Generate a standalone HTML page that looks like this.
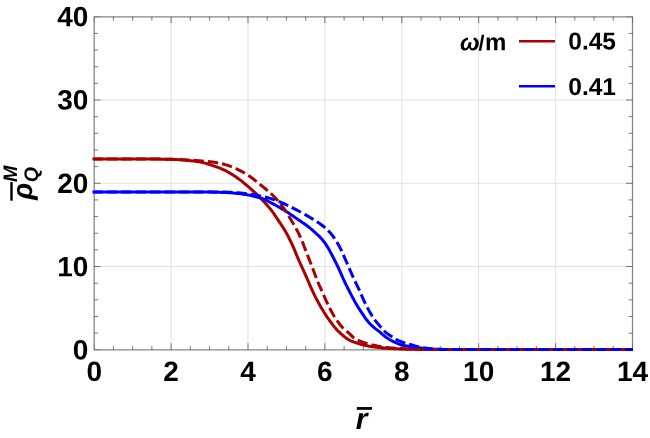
<!DOCTYPE html><html><head><meta charset="utf-8"><title>plot</title><style>html,body{margin:0;padding:0;background:#fff;}body{width:650px;height:438px;position:relative;overflow:hidden;}svg{display:block;will-change:transform;}text{text-rendering:geometricPrecision;}</style></head><body>
<svg width="650" height="438" viewBox="0 0 650 438" style="position:absolute;left:0;top:0"><g stroke="#d6d6d6" stroke-width="0.7" fill="none"><line x1="171.10" y1="16.75" x2="171.10" y2="349.80"/><line x1="248.00" y1="16.75" x2="248.00" y2="349.80"/><line x1="324.90" y1="16.75" x2="324.90" y2="349.80"/><line x1="401.80" y1="16.75" x2="401.80" y2="349.80"/><line x1="478.70" y1="16.75" x2="478.70" y2="349.80"/><line x1="555.60" y1="16.75" x2="555.60" y2="349.80"/><line x1="94.20" y1="266.54" x2="632.50" y2="266.54"/><line x1="94.20" y1="183.28" x2="632.50" y2="183.28"/><line x1="94.20" y1="100.01" x2="632.50" y2="100.01"/></g><rect x="94.20" y="16.75" width="538.30" height="333.05" fill="none" stroke="#868686" stroke-width="1.25" stroke-linejoin="round"/><clipPath id="cp"><rect x="0" y="0" width="633.00" height="438"/></clipPath><g fill="none" stroke-width="3.00" stroke-linejoin="round" clip-path="url(#cp)"><path d="M94.00 159.00 L95.00 159.00 L96.00 159.00 L97.00 159.00 L98.00 159.00 L99.00 159.00 L100.00 159.00 L101.00 159.00 L102.00 159.00 L103.00 159.00 L104.00 159.00 L105.00 159.00 L106.00 159.00 L107.00 159.00 L108.00 159.00 L109.00 159.00 L110.00 159.00 L111.00 159.00 L112.00 159.00 L113.00 159.00 L114.00 159.00 L115.00 159.00 L116.00 159.00 L117.00 159.00 L118.00 159.00 L119.00 159.00 L120.00 159.00 L121.00 159.00 L122.00 159.00 L123.00 159.00 L124.00 159.00 L125.00 159.00 L126.00 159.00 L127.00 159.00 L128.00 159.00 L129.00 159.00 L130.00 159.00 L131.00 159.00 L132.00 159.00 L133.00 159.00 L134.00 159.00 L135.00 159.00 L136.00 159.00 L137.00 159.00 L138.00 159.00 L139.00 159.00 L140.00 159.00 L141.00 159.00 L142.00 159.00 L143.00 159.00 L144.00 159.01 L145.00 159.01 L146.00 159.01 L147.00 159.02 L148.00 159.02 L149.00 159.03 L150.00 159.03 L151.00 159.04 L152.00 159.05 L153.00 159.06 L154.00 159.06 L155.00 159.07 L156.00 159.08 L157.00 159.09 L158.00 159.10 L159.00 159.12 L160.00 159.13 L161.00 159.14 L162.00 159.15 L163.00 159.17 L164.00 159.18 L165.00 159.20 L166.00 159.21 L167.00 159.23 L168.00 159.25 L169.00 159.26 L170.00 159.28 L171.00 159.30 L172.00 159.32 L173.00 159.36 L174.00 159.40 L175.00 159.45 L176.00 159.50 L177.00 159.57 L178.00 159.64 L179.00 159.71 L180.00 159.79 L181.00 159.87 L182.00 159.95 L183.00 160.04 L184.00 160.13 L185.00 160.21 L186.00 160.30 L187.00 160.39 L188.00 160.48 L189.00 160.57 L190.00 160.67 L191.00 160.78 L192.00 160.89 L193.00 161.00 L194.00 161.12 L195.00 161.25 L196.00 161.39 L197.00 161.53 L198.00 161.68 L199.00 161.83 L200.00 162.00 L201.00 162.18 L202.00 162.39 L203.00 162.62 L204.00 162.87 L205.00 163.14 L206.00 163.42 L207.00 163.71 L208.00 164.02 L209.00 164.33 L210.00 164.65 L211.00 164.98 L212.00 165.30 L213.00 165.63 L214.00 165.97 L215.00 166.31 L216.00 166.67 L217.00 167.04 L218.00 167.42 L219.00 167.81 L220.00 168.22 L221.00 168.63 L222.00 169.07 L223.00 169.51 L224.00 169.97 L225.00 170.44 L226.00 170.94 L227.00 171.46 L228.00 172.01 L229.00 172.58 L230.00 173.16 L231.00 173.77 L232.00 174.39 L233.00 175.03 L234.00 175.68 L235.00 176.34 L236.00 177.02 L237.00 177.70 L238.00 178.40 L239.00 179.13 L240.00 179.88 L241.00 180.65 L242.00 181.44 L243.00 182.25 L244.00 183.07 L245.00 183.91 L246.00 184.76 L247.00 185.61 L248.00 186.47 L249.00 187.34 L250.00 188.21 L251.00 189.09 L252.00 189.98 L253.00 190.88 L254.00 191.79 L255.00 192.72 L256.00 193.66 L257.00 194.61 L258.00 195.58 L259.00 196.56 L260.00 197.56 L261.00 198.58 L262.00 199.61 L263.00 200.66 L264.00 201.73 L265.00 202.81 L266.00 203.91 L267.00 205.04 L268.00 206.19 L269.00 207.37 L270.00 208.58 L271.00 209.83 L272.00 211.11 L273.00 212.44 L274.00 213.86 L275.00 215.34 L276.00 216.86 L277.00 218.40 L278.00 219.94 L279.00 221.45 L280.00 222.94 L281.00 224.42 L282.00 225.91 L283.00 227.44 L284.00 229.01 L285.00 230.65 L286.00 232.37 L287.00 234.17 L288.00 236.05 L289.00 237.98 L290.00 239.98 L291.00 242.04 L292.00 244.16 L293.00 246.35 L294.00 248.68 L295.00 251.11 L296.00 253.58 L297.00 256.04 L298.00 258.44 L299.00 260.73 L300.00 262.96 L301.00 265.14 L302.00 267.30 L303.00 269.46 L304.00 271.65 L305.00 273.87 L306.00 276.14 L307.00 278.42 L308.00 280.72 L309.00 283.00 L310.00 285.30 L311.00 287.61 L312.00 289.85 L313.00 291.98 L314.00 294.06 L315.00 296.09 L316.00 298.07 L317.00 300.00 L318.00 301.88 L319.00 303.71 L320.00 305.49 L321.00 307.23 L322.00 308.92 L323.00 310.58 L324.00 312.19 L325.00 313.77 L326.00 315.31 L327.00 316.81 L328.00 318.28 L329.00 319.71 L330.00 321.11 L331.00 322.47 L332.00 323.81 L333.00 325.14 L334.00 326.43 L335.00 327.66 L336.00 328.84 L337.00 329.93 L338.00 330.96 L339.00 331.95 L340.00 332.89 L341.00 333.79 L342.00 334.66 L343.00 335.51 L344.00 336.34 L345.00 337.16 L346.00 337.94 L347.00 338.66 L348.00 339.31 L349.00 339.87 L350.00 340.37 L351.00 340.83 L352.00 341.25 L353.00 341.65 L354.00 342.04 L355.00 342.41 L356.00 342.77 L357.00 343.12 L358.00 343.45 L359.00 343.77 L360.00 344.07 L361.00 344.36 L362.00 344.63 L363.00 344.89 L364.00 345.15 L365.00 345.38 L366.00 345.60 L367.00 345.80 L368.00 345.98 L369.00 346.16 L370.00 346.33 L371.00 346.50 L372.00 346.66 L373.00 346.81 L374.00 346.95 L375.00 347.09 L376.00 347.22 L377.00 347.34 L378.00 347.46 L379.00 347.57 L380.00 347.67 L381.00 347.77 L382.00 347.87 L383.00 347.97 L384.00 348.06 L385.00 348.14 L386.00 348.23 L387.00 348.31 L388.00 348.38 L389.00 348.45 L390.00 348.51 L391.00 348.56 L392.00 348.61 L393.00 348.66 L394.00 348.71 L395.00 348.75 L396.00 348.79 L397.00 348.83 L398.00 348.86 L399.00 348.90 L400.00 348.93 L401.00 348.97 L402.00 349.00 L403.00 349.03 L404.00 349.06 L405.00 349.08 L406.00 349.11 L407.00 349.13 L408.00 349.16 L409.00 349.18 L410.00 349.20 L411.00 349.22 L412.00 349.24 L413.00 349.26 L414.00 349.28 L415.00 349.31 L416.00 349.33 L417.00 349.35 L418.00 349.37 L419.00 349.38 L420.00 349.40 L421.00 349.42 L422.00 349.43 L423.00 349.45 L424.00 349.46 L425.00 349.47 L426.00 349.48 L427.00 349.49 L428.00 349.50 L429.00 349.50 L430.00 349.50 L431.00 349.50 L432.00 349.50 L433.00 349.50 L434.00 349.50 L435.00 349.50 L436.00 349.50 L437.00 349.50 L438.00 349.50 L439.00 349.50 L440.00 349.50 L441.00 349.50 L442.00 349.50 L443.00 349.50 L444.00 349.50 L445.00 349.50 L446.00 349.50 L447.00 349.50 L448.00 349.50 L449.00 349.50 L450.00 349.50 L451.00 349.50 L452.00 349.50 L453.00 349.50 L454.00 349.50 L455.00 349.50 L456.00 349.50 L457.00 349.50 L458.00 349.50 L459.00 349.50 L460.00 349.50 L461.00 349.50 L462.00 349.50 L463.00 349.50 L464.00 349.50 L465.00 349.50 L466.00 349.50 L467.00 349.50 L468.00 349.50 L469.00 349.50 L470.00 349.50 L471.00 349.50 L472.00 349.50 L473.00 349.50 L474.00 349.50 L475.00 349.50 L476.00 349.50 L477.00 349.50 L478.00 349.50 L479.00 349.50 L480.00 349.50 L481.00 349.50 L482.00 349.50 L483.00 349.50 L484.00 349.50 L485.00 349.50 L486.00 349.50 L487.00 349.50 L488.00 349.50 L489.00 349.50 L490.00 349.50 L491.00 349.50 L492.00 349.50 L493.00 349.50 L494.00 349.50 L495.00 349.50 L496.00 349.50 L497.00 349.50 L498.00 349.50 L499.00 349.50 L500.00 349.50 L501.00 349.50 L502.00 349.50 L503.00 349.50 L504.00 349.50 L505.00 349.50 L506.00 349.50 L507.00 349.50 L508.00 349.50 L509.00 349.50 L510.00 349.50 L511.00 349.50 L512.00 349.50 L513.00 349.50 L514.00 349.50 L515.00 349.50 L516.00 349.50 L517.00 349.50 L518.00 349.50 L519.00 349.50 L520.00 349.50 L521.00 349.50 L522.00 349.50 L523.00 349.50 L524.00 349.50 L525.00 349.50 L526.00 349.50 L527.00 349.50 L528.00 349.50 L529.00 349.50 L530.00 349.50 L531.00 349.50 L532.00 349.50 L533.00 349.50 L534.00 349.50 L535.00 349.50 L536.00 349.50 L537.00 349.50 L538.00 349.50 L539.00 349.50 L540.00 349.50 L541.00 349.50 L542.00 349.50 L543.00 349.50 L544.00 349.50 L545.00 349.50 L546.00 349.50 L547.00 349.50 L548.00 349.50 L549.00 349.50 L550.00 349.50 L551.00 349.50 L552.00 349.50 L553.00 349.50 L554.00 349.50 L555.00 349.50 L556.00 349.50 L557.00 349.50 L558.00 349.50 L559.00 349.50 L560.00 349.50 L561.00 349.50 L562.00 349.50 L563.00 349.50 L564.00 349.50 L565.00 349.50 L566.00 349.50 L567.00 349.50 L568.00 349.50 L569.00 349.50 L570.00 349.50 L571.00 349.50 L572.00 349.50 L573.00 349.50 L574.00 349.50 L575.00 349.50 L576.00 349.50 L577.00 349.50 L578.00 349.50 L579.00 349.50 L580.00 349.50 L581.00 349.50 L582.00 349.50 L583.00 349.50 L584.00 349.50 L585.00 349.50 L586.00 349.50 L587.00 349.50 L588.00 349.50 L589.00 349.50 L590.00 349.50 L591.00 349.50 L592.00 349.50 L593.00 349.50 L594.00 349.50 L595.00 349.50 L596.00 349.50 L597.00 349.50 L598.00 349.50 L599.00 349.50 L600.00 349.50 L601.00 349.50 L602.00 349.50 L603.00 349.50 L604.00 349.50 L605.00 349.50 L606.00 349.50 L607.00 349.50 L608.00 349.50 L609.00 349.50 L610.00 349.50 L611.00 349.50 L612.00 349.50 L613.00 349.50 L614.00 349.50 L615.00 349.50 L616.00 349.50 L617.00 349.50 L618.00 349.50 L619.00 349.50 L620.00 349.50 L621.00 349.50 L622.00 349.50 L623.00 349.50 L624.00 349.50 L625.00 349.50 L626.00 349.50 L627.00 349.50 L628.00 349.50 L629.00 349.50 L630.00 349.50 L631.00 349.50 L632.00 349.50 L633.00 349.50 L634.00 349.50 L635.00 349.50 L636.00 349.50 L637.00 349.50 L638.00 349.50 L639.00 349.50 L640.00 349.50" stroke="#aa0000" stroke-linecap="square"/><path d="M94.00 192.00 L95.00 192.00 L96.00 192.00 L97.00 192.00 L98.00 192.00 L99.00 192.00 L100.00 192.00 L101.00 192.00 L102.00 192.00 L103.00 192.00 L104.00 192.00 L105.00 192.00 L106.00 192.00 L107.00 192.00 L108.00 192.00 L109.00 192.00 L110.00 192.00 L111.00 192.00 L112.00 192.00 L113.00 192.00 L114.00 192.00 L115.00 192.00 L116.00 192.00 L117.00 192.00 L118.00 192.00 L119.00 192.00 L120.00 192.00 L121.00 192.00 L122.00 192.00 L123.00 192.00 L124.00 192.00 L125.00 192.00 L126.00 192.00 L127.00 192.00 L128.00 192.00 L129.00 192.00 L130.00 192.00 L131.00 192.00 L132.00 192.00 L133.00 192.00 L134.00 192.00 L135.00 192.00 L136.00 192.00 L137.00 192.00 L138.00 192.00 L139.00 192.00 L140.00 192.00 L141.00 192.00 L142.00 192.00 L143.00 192.00 L144.00 192.00 L145.00 192.00 L146.00 192.00 L147.00 192.00 L148.00 192.00 L149.00 192.00 L150.00 192.00 L151.00 192.00 L152.00 192.00 L153.00 192.00 L154.00 192.00 L155.00 192.00 L156.00 192.00 L157.00 192.00 L158.00 192.00 L159.00 192.00 L160.00 192.00 L161.00 192.00 L162.00 192.00 L163.00 192.00 L164.00 192.00 L165.00 192.00 L166.00 192.00 L167.00 192.00 L168.00 192.00 L169.00 192.00 L170.00 192.00 L171.00 192.00 L172.00 192.00 L173.00 192.00 L174.00 192.00 L175.00 192.00 L176.00 192.00 L177.00 192.00 L178.00 192.00 L179.00 192.00 L180.00 192.00 L181.00 192.00 L182.00 192.00 L183.00 192.00 L184.00 192.00 L185.00 192.00 L186.00 192.00 L187.00 192.00 L188.00 192.00 L189.00 192.00 L190.00 192.00 L191.00 192.00 L192.00 192.00 L193.00 192.00 L194.00 192.00 L195.00 192.00 L196.00 192.00 L197.00 192.00 L198.00 192.00 L199.00 192.00 L200.00 192.00 L201.00 192.00 L202.00 192.00 L203.00 192.01 L204.00 192.02 L205.00 192.03 L206.00 192.04 L207.00 192.05 L208.00 192.06 L209.00 192.08 L210.00 192.10 L211.00 192.12 L212.00 192.14 L213.00 192.16 L214.00 192.18 L215.00 192.21 L216.00 192.23 L217.00 192.26 L218.00 192.29 L219.00 192.32 L220.00 192.35 L221.00 192.38 L222.00 192.41 L223.00 192.44 L224.00 192.48 L225.00 192.51 L226.00 192.55 L227.00 192.60 L228.00 192.66 L229.00 192.72 L230.00 192.79 L231.00 192.86 L232.00 192.94 L233.00 193.03 L234.00 193.12 L235.00 193.21 L236.00 193.30 L237.00 193.40 L238.00 193.50 L239.00 193.61 L240.00 193.73 L241.00 193.86 L242.00 194.00 L243.00 194.14 L244.00 194.29 L245.00 194.45 L246.00 194.61 L247.00 194.79 L248.00 194.96 L249.00 195.14 L250.00 195.33 L251.00 195.53 L252.00 195.74 L253.00 195.96 L254.00 196.19 L255.00 196.44 L256.00 196.69 L257.00 196.96 L258.00 197.24 L259.00 197.54 L260.00 197.84 L261.00 198.17 L262.00 198.50 L263.00 198.88 L264.00 199.29 L265.00 199.74 L266.00 200.21 L267.00 200.71 L268.00 201.23 L269.00 201.75 L270.00 202.29 L271.00 202.82 L272.00 203.34 L273.00 203.86 L274.00 204.39 L275.00 204.92 L276.00 205.47 L277.00 206.01 L278.00 206.57 L279.00 207.13 L280.00 207.70 L281.00 208.28 L282.00 208.87 L283.00 209.47 L284.00 210.07 L285.00 210.69 L286.00 211.31 L287.00 211.96 L288.00 212.61 L289.00 213.28 L290.00 213.95 L291.00 214.64 L292.00 215.33 L293.00 216.02 L294.00 216.72 L295.00 217.41 L296.00 218.11 L297.00 218.80 L298.00 219.49 L299.00 220.17 L300.00 220.85 L301.00 221.53 L302.00 222.21 L303.00 222.89 L304.00 223.59 L305.00 224.29 L306.00 225.01 L307.00 225.74 L308.00 226.49 L309.00 227.26 L310.00 228.06 L311.00 228.89 L312.00 229.75 L313.00 230.63 L314.00 231.53 L315.00 232.44 L316.00 233.36 L317.00 234.27 L318.00 235.17 L319.00 236.09 L320.00 237.06 L321.00 238.13 L322.00 239.29 L323.00 240.52 L324.00 241.83 L325.00 243.20 L326.00 244.65 L327.00 246.15 L328.00 247.78 L329.00 249.52 L330.00 251.36 L331.00 253.26 L332.00 255.18 L333.00 257.10 L334.00 259.01 L335.00 260.95 L336.00 262.92 L337.00 264.93 L338.00 266.97 L339.00 269.07 L340.00 271.26 L341.00 273.57 L342.00 275.92 L343.00 278.23 L344.00 280.43 L345.00 282.53 L346.00 284.58 L347.00 286.58 L348.00 288.56 L349.00 290.51 L350.00 292.47 L351.00 294.42 L352.00 296.36 L353.00 298.26 L354.00 300.12 L355.00 301.93 L356.00 303.66 L357.00 305.34 L358.00 306.97 L359.00 308.56 L360.00 310.12 L361.00 311.65 L362.00 313.15 L363.00 314.66 L364.00 316.15 L365.00 317.61 L366.00 319.01 L367.00 320.32 L368.00 321.53 L369.00 322.66 L370.00 323.72 L371.00 324.73 L372.00 325.69 L373.00 326.61 L374.00 327.50 L375.00 328.34 L376.00 329.12 L377.00 329.86 L378.00 330.61 L379.00 331.39 L380.00 332.23 L381.00 333.14 L382.00 334.05 L383.00 334.90 L384.00 335.69 L385.00 336.45 L386.00 337.18 L387.00 337.88 L388.00 338.55 L389.00 339.18 L390.00 339.77 L391.00 340.33 L392.00 340.86 L393.00 341.37 L394.00 341.86 L395.00 342.32 L396.00 342.77 L397.00 343.21 L398.00 343.65 L399.00 344.06 L400.00 344.43 L401.00 344.76 L402.00 345.03 L403.00 345.28 L404.00 345.51 L405.00 345.72 L406.00 345.91 L407.00 346.09 L408.00 346.27 L409.00 346.44 L410.00 346.60 L411.00 346.76 L412.00 346.92 L413.00 347.08 L414.00 347.24 L415.00 347.39 L416.00 347.54 L417.00 347.68 L418.00 347.82 L419.00 347.95 L420.00 348.08 L421.00 348.20 L422.00 348.31 L423.00 348.41 L424.00 348.51 L425.00 348.60 L426.00 348.68 L427.00 348.77 L428.00 348.85 L429.00 348.93 L430.00 349.00 L431.00 349.07 L432.00 349.14 L433.00 349.20 L434.00 349.25 L435.00 349.29 L436.00 349.33 L437.00 349.35 L438.00 349.37 L439.00 349.39 L440.00 349.41 L441.00 349.42 L442.00 349.44 L443.00 349.45 L444.00 349.46 L445.00 349.47 L446.00 349.48 L447.00 349.49 L448.00 349.50 L449.00 349.50 L450.00 349.50 L451.00 349.50 L452.00 349.50 L453.00 349.50 L454.00 349.50 L455.00 349.50 L456.00 349.50 L457.00 349.50 L458.00 349.50 L459.00 349.50 L460.00 349.50 L461.00 349.50 L462.00 349.50 L463.00 349.50 L464.00 349.50 L465.00 349.50 L466.00 349.50 L467.00 349.50 L468.00 349.50 L469.00 349.50 L470.00 349.50 L471.00 349.50 L472.00 349.50 L473.00 349.50 L474.00 349.50 L475.00 349.50 L476.00 349.50 L477.00 349.50 L478.00 349.50 L479.00 349.50 L480.00 349.50 L481.00 349.50 L482.00 349.50 L483.00 349.50 L484.00 349.50 L485.00 349.50 L486.00 349.50 L487.00 349.50 L488.00 349.50 L489.00 349.50 L490.00 349.50 L491.00 349.50 L492.00 349.50 L493.00 349.50 L494.00 349.50 L495.00 349.50 L496.00 349.50 L497.00 349.50 L498.00 349.50 L499.00 349.50 L500.00 349.50 L501.00 349.50 L502.00 349.50 L503.00 349.50 L504.00 349.50 L505.00 349.50 L506.00 349.50 L507.00 349.50 L508.00 349.50 L509.00 349.50 L510.00 349.50 L511.00 349.50 L512.00 349.50 L513.00 349.50 L514.00 349.50 L515.00 349.50 L516.00 349.50 L517.00 349.50 L518.00 349.50 L519.00 349.50 L520.00 349.50 L521.00 349.50 L522.00 349.50 L523.00 349.50 L524.00 349.50 L525.00 349.50 L526.00 349.50 L527.00 349.50 L528.00 349.50 L529.00 349.50 L530.00 349.50 L531.00 349.50 L532.00 349.50 L533.00 349.50 L534.00 349.50 L535.00 349.50 L536.00 349.50 L537.00 349.50 L538.00 349.50 L539.00 349.50 L540.00 349.50 L541.00 349.50 L542.00 349.50 L543.00 349.50 L544.00 349.50 L545.00 349.50 L546.00 349.50 L547.00 349.50 L548.00 349.50 L549.00 349.50 L550.00 349.50 L551.00 349.50 L552.00 349.50 L553.00 349.50 L554.00 349.50 L555.00 349.50 L556.00 349.50 L557.00 349.50 L558.00 349.50 L559.00 349.50 L560.00 349.50 L561.00 349.50 L562.00 349.50 L563.00 349.50 L564.00 349.50 L565.00 349.50 L566.00 349.50 L567.00 349.50 L568.00 349.50 L569.00 349.50 L570.00 349.50 L571.00 349.50 L572.00 349.50 L573.00 349.50 L574.00 349.50 L575.00 349.50 L576.00 349.50 L577.00 349.50 L578.00 349.50 L579.00 349.50 L580.00 349.50 L581.00 349.50 L582.00 349.50 L583.00 349.50 L584.00 349.50 L585.00 349.50 L586.00 349.50 L587.00 349.50 L588.00 349.50 L589.00 349.50 L590.00 349.50 L591.00 349.50 L592.00 349.50 L593.00 349.50 L594.00 349.50 L595.00 349.50 L596.00 349.50 L597.00 349.50 L598.00 349.50 L599.00 349.50 L600.00 349.50 L601.00 349.50 L602.00 349.50 L603.00 349.50 L604.00 349.50 L605.00 349.50 L606.00 349.50 L607.00 349.50 L608.00 349.50 L609.00 349.50 L610.00 349.50 L611.00 349.50 L612.00 349.50 L613.00 349.50 L614.00 349.50 L615.00 349.50 L616.00 349.50 L617.00 349.50 L618.00 349.50 L619.00 349.50 L620.00 349.50 L621.00 349.50 L622.00 349.50 L623.00 349.50 L624.00 349.50 L625.00 349.50 L626.00 349.50 L627.00 349.50 L628.00 349.50 L629.00 349.50 L630.00 349.50 L631.00 349.50 L632.00 349.50 L633.00 349.50 L634.00 349.50 L635.00 349.50 L636.00 349.50 L637.00 349.50 L638.00 349.50 L639.00 349.50 L640.00 349.50" stroke="#0000ff" stroke-linecap="square"/><path d="M94.00 159.00 L95.00 159.00 L96.00 159.00 L97.00 159.00 L98.00 159.00 L99.00 159.00 L100.00 159.00 L101.00 159.00 L102.00 159.00 L103.00 159.00 L104.00 159.00 L105.00 159.00 L106.00 159.00 L107.00 159.00 L108.00 159.00 L109.00 159.00 L110.00 159.00 L111.00 159.00 L112.00 159.00 L113.00 159.00 L114.00 159.00 L115.00 159.00 L116.00 159.00 L117.00 159.00 L118.00 159.00 L119.00 159.00 L120.00 159.00 L121.00 159.00 L122.00 159.00 L123.00 159.00 L124.00 159.00 L125.00 159.00 L126.00 159.00 L127.00 159.00 L128.00 159.00 L129.00 159.00 L130.00 159.00 L131.00 159.00 L132.00 159.00 L133.00 159.00 L134.00 159.00 L135.00 159.00 L136.00 159.00 L137.00 159.00 L138.00 159.00 L139.00 159.00 L140.00 159.00 L141.00 159.00 L142.00 159.00 L143.00 159.00 L144.00 159.00 L145.00 159.00 L146.00 159.00 L147.00 159.00 L148.00 159.00 L149.00 159.00 L150.00 159.00 L151.00 159.00 L152.00 159.00 L153.00 159.01 L154.00 159.01 L155.00 159.02 L156.00 159.03 L157.00 159.04 L158.00 159.06 L159.00 159.07 L160.00 159.09 L161.00 159.10 L162.00 159.12 L163.00 159.14 L164.00 159.16 L165.00 159.18 L166.00 159.20 L167.00 159.23 L168.00 159.25 L169.00 159.28 L170.00 159.30 L171.00 159.33 L172.00 159.36 L173.00 159.39 L174.00 159.42 L175.00 159.45 L176.00 159.48 L177.00 159.51 L178.00 159.54 L179.00 159.57 L180.00 159.60 L181.00 159.63 L182.00 159.67 L183.00 159.71 L184.00 159.76 L185.00 159.81 L186.00 159.87 L187.00 159.92 L188.00 159.98 L189.00 160.05 L190.00 160.11 L191.00 160.18 L192.00 160.25 L193.00 160.32 L194.00 160.40 L195.00 160.47 L196.00 160.55 L197.00 160.62 L198.00 160.70 L199.00 160.77 L200.00 160.85 L201.00 160.93 L202.00 161.00 L203.00 161.08 L204.00 161.16 L205.00 161.25 L206.00 161.33 L207.00 161.42 L208.00 161.52 L209.00 161.62 L210.00 161.73 L211.00 161.84 L212.00 161.96 L213.00 162.09 L214.00 162.24 L215.00 162.39 L216.00 162.56 L217.00 162.75 L218.00 162.94 L219.00 163.15 L220.00 163.36 L221.00 163.59 L222.00 163.82 L223.00 164.07 L224.00 164.32 L225.00 164.58 L226.00 164.86 L227.00 165.16 L228.00 165.49 L229.00 165.83 L230.00 166.19 L231.00 166.57 L232.00 166.96 L233.00 167.36 L234.00 167.78 L235.00 168.21 L236.00 168.65 L237.00 169.10 L238.00 169.56 L239.00 170.05 L240.00 170.56 L241.00 171.08 L242.00 171.63 L243.00 172.19 L244.00 172.78 L245.00 173.37 L246.00 173.99 L247.00 174.61 L248.00 175.25 L249.00 175.90 L250.00 176.57 L251.00 177.27 L252.00 177.99 L253.00 178.74 L254.00 179.52 L255.00 180.31 L256.00 181.11 L257.00 181.93 L258.00 182.75 L259.00 183.58 L260.00 184.40 L261.00 185.23 L262.00 186.04 L263.00 186.85 L264.00 187.66 L265.00 188.46 L266.00 189.28 L267.00 190.10 L268.00 190.93 L269.00 191.79 L270.00 192.67 L271.00 193.57 L272.00 194.51 L273.00 195.49 L274.00 196.52 L275.00 197.59 L276.00 198.70 L277.00 199.84 L278.00 201.01 L279.00 202.20 L280.00 203.40 L281.00 204.64 L282.00 205.92 L283.00 207.24 L284.00 208.61 L285.00 210.04 L286.00 211.55 L287.00 213.14 L288.00 214.79 L289.00 216.47 L290.00 218.15 L291.00 219.83 L292.00 221.50 L293.00 223.16 L294.00 224.84 L295.00 226.56 L296.00 228.34 L297.00 230.20 L298.00 232.15 L299.00 234.18 L300.00 236.31 L301.00 238.52 L302.00 240.85 L303.00 243.35 L304.00 245.98 L305.00 248.64 L306.00 251.26 L307.00 253.82 L308.00 256.37 L309.00 258.92 L310.00 261.48 L311.00 264.07 L312.00 266.68 L313.00 269.29 L314.00 271.90 L315.00 274.50 L316.00 277.14 L317.00 279.76 L318.00 282.27 L319.00 284.64 L320.00 286.87 L321.00 289.06 L322.00 291.25 L323.00 293.52 L324.00 295.83 L325.00 298.14 L326.00 300.41 L327.00 302.59 L328.00 304.69 L329.00 306.76 L330.00 308.76 L331.00 310.69 L332.00 312.52 L333.00 314.26 L334.00 315.93 L335.00 317.53 L336.00 319.05 L337.00 320.50 L338.00 321.90 L339.00 323.26 L340.00 324.58 L341.00 325.83 L342.00 327.01 L343.00 328.09 L344.00 329.08 L345.00 329.97 L346.00 330.80 L347.00 331.60 L348.00 332.41 L349.00 333.24 L350.00 334.14 L351.00 335.12 L352.00 336.11 L353.00 337.06 L354.00 337.90 L355.00 338.59 L356.00 339.18 L357.00 339.71 L358.00 340.20 L359.00 340.65 L360.00 341.07 L361.00 341.48 L362.00 341.87 L363.00 342.23 L364.00 342.57 L365.00 342.90 L366.00 343.21 L367.00 343.50 L368.00 343.78 L369.00 344.06 L370.00 344.33 L371.00 344.59 L372.00 344.85 L373.00 345.09 L374.00 345.33 L375.00 345.56 L376.00 345.77 L377.00 345.98 L378.00 346.17 L379.00 346.35 L380.00 346.52 L381.00 346.68 L382.00 346.83 L383.00 346.98 L384.00 347.13 L385.00 347.27 L386.00 347.40 L387.00 347.52 L388.00 347.64 L389.00 347.75 L390.00 347.85 L391.00 347.94 L392.00 348.02 L393.00 348.10 L394.00 348.18 L395.00 348.26 L396.00 348.33 L397.00 348.40 L398.00 348.46 L399.00 348.53 L400.00 348.59 L401.00 348.65 L402.00 348.71 L403.00 348.76 L404.00 348.81 L405.00 348.86 L406.00 348.90 L407.00 348.94 L408.00 348.98 L409.00 349.02 L410.00 349.05 L411.00 349.08 L412.00 349.11 L413.00 349.14 L414.00 349.17 L415.00 349.20 L416.00 349.23 L417.00 349.26 L418.00 349.28 L419.00 349.31 L420.00 349.34 L421.00 349.36 L422.00 349.38 L423.00 349.40 L424.00 349.42 L425.00 349.44 L426.00 349.45 L427.00 349.47 L428.00 349.48 L429.00 349.49 L430.00 349.49 L431.00 349.50 L432.00 349.50 L433.00 349.50 L434.00 349.50 L435.00 349.50 L436.00 349.50 L437.00 349.50 L438.00 349.50 L439.00 349.50 L440.00 349.50 L441.00 349.50 L442.00 349.50 L443.00 349.50 L444.00 349.50 L445.00 349.50 L446.00 349.50 L447.00 349.50 L448.00 349.50 L449.00 349.50 L450.00 349.50 L451.00 349.50 L452.00 349.50 L453.00 349.50 L454.00 349.50 L455.00 349.50 L456.00 349.50 L457.00 349.50 L458.00 349.50 L459.00 349.50 L460.00 349.50 L461.00 349.50 L462.00 349.50 L463.00 349.50 L464.00 349.50 L465.00 349.50 L466.00 349.50 L467.00 349.50 L468.00 349.50 L469.00 349.50 L470.00 349.50 L471.00 349.50 L472.00 349.50 L473.00 349.50 L474.00 349.50 L475.00 349.50 L476.00 349.50 L477.00 349.50 L478.00 349.50 L479.00 349.50 L480.00 349.50 L481.00 349.50 L482.00 349.50 L483.00 349.50 L484.00 349.50 L485.00 349.50 L486.00 349.50 L487.00 349.50 L488.00 349.50 L489.00 349.50 L490.00 349.50 L491.00 349.50 L492.00 349.50 L493.00 349.50 L494.00 349.50 L495.00 349.50 L496.00 349.50 L497.00 349.50 L498.00 349.50 L499.00 349.50 L500.00 349.50 L501.00 349.50 L502.00 349.50 L503.00 349.50 L504.00 349.50 L505.00 349.50 L506.00 349.50 L507.00 349.50 L508.00 349.50 L509.00 349.50 L510.00 349.50 L511.00 349.50 L512.00 349.50 L513.00 349.50 L514.00 349.50 L515.00 349.50 L516.00 349.50 L517.00 349.50 L518.00 349.50 L519.00 349.50 L520.00 349.50 L521.00 349.50 L522.00 349.50 L523.00 349.50 L524.00 349.50 L525.00 349.50 L526.00 349.50 L527.00 349.50 L528.00 349.50 L529.00 349.50 L530.00 349.50 L531.00 349.50 L532.00 349.50 L533.00 349.50 L534.00 349.50 L535.00 349.50 L536.00 349.50 L537.00 349.50 L538.00 349.50 L539.00 349.50 L540.00 349.50 L541.00 349.50 L542.00 349.50 L543.00 349.50 L544.00 349.50 L545.00 349.50 L546.00 349.50 L547.00 349.50 L548.00 349.50 L549.00 349.50 L550.00 349.50 L551.00 349.50 L552.00 349.50 L553.00 349.50 L554.00 349.50 L555.00 349.50 L556.00 349.50 L557.00 349.50 L558.00 349.50 L559.00 349.50 L560.00 349.50 L561.00 349.50 L562.00 349.50 L563.00 349.50 L564.00 349.50 L565.00 349.50 L566.00 349.50 L567.00 349.50 L568.00 349.50 L569.00 349.50 L570.00 349.50 L571.00 349.50 L572.00 349.50 L573.00 349.50 L574.00 349.50 L575.00 349.50 L576.00 349.50 L577.00 349.50 L578.00 349.50 L579.00 349.50 L580.00 349.50 L581.00 349.50 L582.00 349.50 L583.00 349.50 L584.00 349.50 L585.00 349.50 L586.00 349.50 L587.00 349.50 L588.00 349.50 L589.00 349.50 L590.00 349.50 L591.00 349.50 L592.00 349.50 L593.00 349.50 L594.00 349.50 L595.00 349.50 L596.00 349.50 L597.00 349.50 L598.00 349.50 L599.00 349.50 L600.00 349.50 L601.00 349.50 L602.00 349.50 L603.00 349.50 L604.00 349.50 L605.00 349.50 L606.00 349.50 L607.00 349.50 L608.00 349.50 L609.00 349.50 L610.00 349.50 L611.00 349.50 L612.00 349.50 L613.00 349.50 L614.00 349.50 L615.00 349.50 L616.00 349.50 L617.00 349.50 L618.00 349.50 L619.00 349.50 L620.00 349.50 L621.00 349.50 L622.00 349.50 L623.00 349.50 L624.00 349.50 L625.00 349.50 L626.00 349.50 L627.00 349.50 L628.00 349.50 L629.00 349.50 L630.00 349.50 L631.00 349.50 L632.00 349.50 L633.00 349.50 L634.00 349.50 L635.00 349.50 L636.00 349.50 L637.00 349.50 L638.00 349.50 L639.00 349.50 L640.00 349.50" stroke="#aa0000" stroke-dasharray="10.40 4.02" stroke-dashoffset="15.88"/><path d="M94.00 192.00 L95.00 192.00 L96.00 192.00 L97.00 192.00 L98.00 192.00 L99.00 192.00 L100.00 192.00 L101.00 192.00 L102.00 192.00 L103.00 192.00 L104.00 192.00 L105.00 192.00 L106.00 192.00 L107.00 192.00 L108.00 192.00 L109.00 192.00 L110.00 192.00 L111.00 192.00 L112.00 192.00 L113.00 192.00 L114.00 192.00 L115.00 192.00 L116.00 192.00 L117.00 192.00 L118.00 192.00 L119.00 192.00 L120.00 192.00 L121.00 192.00 L122.00 192.00 L123.00 192.00 L124.00 192.00 L125.00 192.00 L126.00 192.00 L127.00 192.00 L128.00 192.00 L129.00 192.00 L130.00 192.00 L131.00 192.00 L132.00 192.00 L133.00 192.00 L134.00 192.00 L135.00 192.00 L136.00 192.00 L137.00 192.00 L138.00 192.00 L139.00 192.00 L140.00 192.00 L141.00 192.00 L142.00 192.00 L143.00 192.00 L144.00 192.00 L145.00 192.00 L146.00 192.00 L147.00 192.00 L148.00 192.00 L149.00 192.00 L150.00 192.00 L151.00 192.00 L152.00 192.00 L153.00 192.00 L154.00 192.00 L155.00 192.00 L156.00 192.00 L157.00 192.00 L158.00 192.00 L159.00 192.00 L160.00 192.00 L161.00 192.00 L162.00 192.00 L163.00 192.00 L164.00 192.00 L165.00 192.00 L166.00 192.00 L167.00 192.00 L168.00 192.00 L169.00 192.00 L170.00 192.00 L171.00 192.00 L172.00 192.00 L173.00 192.00 L174.00 192.00 L175.00 192.00 L176.00 192.00 L177.00 192.00 L178.00 192.00 L179.00 192.00 L180.00 192.00 L181.00 192.00 L182.00 192.00 L183.00 192.00 L184.00 192.00 L185.00 192.00 L186.00 192.00 L187.00 192.00 L188.00 192.00 L189.00 192.00 L190.00 192.00 L191.00 192.00 L192.00 192.00 L193.00 192.00 L194.00 192.00 L195.00 192.00 L196.00 192.00 L197.00 192.00 L198.00 192.00 L199.00 192.00 L200.00 192.00 L201.00 192.00 L202.00 192.00 L203.00 192.00 L204.00 192.00 L205.00 192.00 L206.00 192.00 L207.00 192.00 L208.00 192.00 L209.00 192.00 L210.00 192.00 L211.00 192.00 L212.00 192.00 L213.00 192.00 L214.00 192.00 L215.00 192.00 L216.00 192.00 L217.00 192.00 L218.00 192.00 L219.00 192.00 L220.00 192.00 L221.00 192.00 L222.00 192.01 L223.00 192.03 L224.00 192.05 L225.00 192.08 L226.00 192.12 L227.00 192.15 L228.00 192.20 L229.00 192.24 L230.00 192.29 L231.00 192.34 L232.00 192.40 L233.00 192.46 L234.00 192.52 L235.00 192.58 L236.00 192.64 L237.00 192.70 L238.00 192.77 L239.00 192.85 L240.00 192.94 L241.00 193.04 L242.00 193.15 L243.00 193.27 L244.00 193.39 L245.00 193.52 L246.00 193.65 L247.00 193.79 L248.00 193.92 L249.00 194.06 L250.00 194.20 L251.00 194.34 L252.00 194.48 L253.00 194.63 L254.00 194.79 L255.00 194.95 L256.00 195.12 L257.00 195.29 L258.00 195.47 L259.00 195.66 L260.00 195.85 L261.00 196.05 L262.00 196.26 L263.00 196.49 L264.00 196.72 L265.00 196.97 L266.00 197.23 L267.00 197.50 L268.00 197.78 L269.00 198.08 L270.00 198.38 L271.00 198.69 L272.00 199.00 L273.00 199.33 L274.00 199.67 L275.00 200.02 L276.00 200.39 L277.00 200.77 L278.00 201.16 L279.00 201.56 L280.00 201.97 L281.00 202.39 L282.00 202.82 L283.00 203.25 L284.00 203.69 L285.00 204.13 L286.00 204.59 L287.00 205.06 L288.00 205.54 L289.00 206.03 L290.00 206.54 L291.00 207.05 L292.00 207.57 L293.00 208.09 L294.00 208.61 L295.00 209.14 L296.00 209.67 L297.00 210.20 L298.00 210.73 L299.00 211.26 L300.00 211.79 L301.00 212.33 L302.00 212.87 L303.00 213.41 L304.00 213.96 L305.00 214.52 L306.00 215.08 L307.00 215.65 L308.00 216.23 L309.00 216.82 L310.00 217.42 L311.00 218.01 L312.00 218.61 L313.00 219.22 L314.00 219.83 L315.00 220.45 L316.00 221.08 L317.00 221.73 L318.00 222.39 L319.00 223.06 L320.00 223.76 L321.00 224.48 L322.00 225.23 L323.00 225.99 L324.00 226.79 L325.00 227.63 L326.00 228.51 L327.00 229.43 L328.00 230.40 L329.00 231.43 L330.00 232.53 L331.00 233.69 L332.00 234.92 L333.00 236.21 L334.00 237.58 L335.00 239.02 L336.00 240.58 L337.00 242.25 L338.00 244.00 L339.00 245.83 L340.00 247.73 L341.00 249.70 L342.00 251.84 L343.00 254.09 L344.00 256.40 L345.00 258.70 L346.00 260.95 L347.00 263.21 L348.00 265.49 L349.00 267.76 L350.00 270.02 L351.00 272.28 L352.00 274.55 L353.00 276.81 L354.00 279.04 L355.00 281.21 L356.00 283.31 L357.00 285.34 L358.00 287.38 L359.00 289.47 L360.00 291.67 L361.00 293.97 L362.00 296.30 L363.00 298.60 L364.00 300.79 L365.00 302.87 L366.00 304.91 L367.00 306.88 L368.00 308.79 L369.00 310.62 L370.00 312.39 L371.00 314.11 L372.00 315.76 L373.00 317.33 L374.00 318.80 L375.00 320.16 L376.00 321.45 L377.00 322.67 L378.00 323.85 L379.00 325.02 L380.00 326.19 L381.00 327.37 L382.00 328.56 L383.00 329.70 L384.00 330.78 L385.00 331.76 L386.00 332.62 L387.00 333.39 L388.00 334.10 L389.00 334.77 L390.00 335.42 L391.00 336.05 L392.00 336.69 L393.00 337.35 L394.00 338.00 L395.00 338.63 L396.00 339.23 L397.00 339.79 L398.00 340.30 L399.00 340.76 L400.00 341.19 L401.00 341.60 L402.00 341.98 L403.00 342.35 L404.00 342.70 L405.00 343.03 L406.00 343.35 L407.00 343.66 L408.00 343.95 L409.00 344.23 L410.00 344.50 L411.00 344.77 L412.00 345.04 L413.00 345.31 L414.00 345.58 L415.00 345.85 L416.00 346.11 L417.00 346.37 L418.00 346.62 L419.00 346.85 L420.00 347.08 L421.00 347.30 L422.00 347.50 L423.00 347.68 L424.00 347.85 L425.00 348.00 L426.00 348.14 L427.00 348.27 L428.00 348.40 L429.00 348.52 L430.00 348.64 L431.00 348.75 L432.00 348.85 L433.00 348.94 L434.00 349.03 L435.00 349.10 L436.00 349.16 L437.00 349.20 L438.00 349.24 L439.00 349.27 L440.00 349.31 L441.00 349.34 L442.00 349.37 L443.00 349.40 L444.00 349.42 L445.00 349.45 L446.00 349.46 L447.00 349.48 L448.00 349.49 L449.00 349.50 L450.00 349.50 L451.00 349.50 L452.00 349.50 L453.00 349.50 L454.00 349.50 L455.00 349.50 L456.00 349.50 L457.00 349.50 L458.00 349.50 L459.00 349.50 L460.00 349.50 L461.00 349.50 L462.00 349.50 L463.00 349.50 L464.00 349.50 L465.00 349.50 L466.00 349.50 L467.00 349.50 L468.00 349.50 L469.00 349.50 L470.00 349.50 L471.00 349.50 L472.00 349.50 L473.00 349.50 L474.00 349.50 L475.00 349.50 L476.00 349.50 L477.00 349.50 L478.00 349.50 L479.00 349.50 L480.00 349.50 L481.00 349.50 L482.00 349.50 L483.00 349.50 L484.00 349.50 L485.00 349.50 L486.00 349.50 L487.00 349.50 L488.00 349.50 L489.00 349.50 L490.00 349.50 L491.00 349.50 L492.00 349.50 L493.00 349.50 L494.00 349.50 L495.00 349.50 L496.00 349.50 L497.00 349.50 L498.00 349.50 L499.00 349.50 L500.00 349.50 L501.00 349.50 L502.00 349.50 L503.00 349.50 L504.00 349.50 L505.00 349.50 L506.00 349.50 L507.00 349.50 L508.00 349.50 L509.00 349.50 L510.00 349.50 L511.00 349.50 L512.00 349.50 L513.00 349.50 L514.00 349.50 L515.00 349.50 L516.00 349.50 L517.00 349.50 L518.00 349.50 L519.00 349.50 L520.00 349.50 L521.00 349.50 L522.00 349.50 L523.00 349.50 L524.00 349.50 L525.00 349.50 L526.00 349.50 L527.00 349.50 L528.00 349.50 L529.00 349.50 L530.00 349.50 L531.00 349.50 L532.00 349.50 L533.00 349.50 L534.00 349.50 L535.00 349.50 L536.00 349.50 L537.00 349.50 L538.00 349.50 L539.00 349.50 L540.00 349.50 L541.00 349.50 L542.00 349.50 L543.00 349.50 L544.00 349.50 L545.00 349.50 L546.00 349.50 L547.00 349.50 L548.00 349.50 L549.00 349.50 L550.00 349.50 L551.00 349.50 L552.00 349.50 L553.00 349.50 L554.00 349.50 L555.00 349.50 L556.00 349.50 L557.00 349.50 L558.00 349.50 L559.00 349.50 L560.00 349.50 L561.00 349.50 L562.00 349.50 L563.00 349.50 L564.00 349.50 L565.00 349.50 L566.00 349.50 L567.00 349.50 L568.00 349.50 L569.00 349.50 L570.00 349.50 L571.00 349.50 L572.00 349.50 L573.00 349.50 L574.00 349.50 L575.00 349.50 L576.00 349.50 L577.00 349.50 L578.00 349.50 L579.00 349.50 L580.00 349.50 L581.00 349.50 L582.00 349.50 L583.00 349.50 L584.00 349.50 L585.00 349.50 L586.00 349.50 L587.00 349.50 L588.00 349.50 L589.00 349.50 L590.00 349.50 L591.00 349.50 L592.00 349.50 L593.00 349.50 L594.00 349.50 L595.00 349.50 L596.00 349.50 L597.00 349.50 L598.00 349.50 L599.00 349.50 L600.00 349.50 L601.00 349.50 L602.00 349.50 L603.00 349.50 L604.00 349.50 L605.00 349.50 L606.00 349.50 L607.00 349.50 L608.00 349.50 L609.00 349.50 L610.00 349.50 L611.00 349.50 L612.00 349.50 L613.00 349.50 L614.00 349.50 L615.00 349.50 L616.00 349.50 L617.00 349.50 L618.00 349.50 L619.00 349.50 L620.00 349.50 L621.00 349.50 L622.00 349.50 L623.00 349.50 L624.00 349.50 L625.00 349.50 L626.00 349.50 L627.00 349.50 L628.00 349.50 L629.00 349.50 L630.00 349.50 L631.00 349.50 L632.00 349.50 L633.00 349.50 L634.00 349.50 L635.00 349.50 L636.00 349.50 L637.00 349.50 L638.00 349.50 L639.00 349.50 L640.00 349.50" stroke="#0000ff" stroke-dasharray="10.40 4.02" stroke-dashoffset="1.71"/></g><g stroke="#000" stroke-opacity="0.5" stroke-width="1" fill="none"><line x1="113.42" y1="349.80" x2="113.42" y2="345.90"/><line x1="113.42" y1="16.75" x2="113.42" y2="20.65"/><line x1="132.65" y1="349.80" x2="132.65" y2="345.90"/><line x1="132.65" y1="16.75" x2="132.65" y2="20.65"/><line x1="151.88" y1="349.80" x2="151.88" y2="345.90"/><line x1="151.88" y1="16.75" x2="151.88" y2="20.65"/><line x1="171.10" y1="349.80" x2="171.10" y2="343.30"/><line x1="171.10" y1="16.75" x2="171.10" y2="23.25"/><line x1="190.32" y1="349.80" x2="190.32" y2="345.90"/><line x1="190.32" y1="16.75" x2="190.32" y2="20.65"/><line x1="209.55" y1="349.80" x2="209.55" y2="345.90"/><line x1="209.55" y1="16.75" x2="209.55" y2="20.65"/><line x1="228.77" y1="349.80" x2="228.77" y2="345.90"/><line x1="228.77" y1="16.75" x2="228.77" y2="20.65"/><line x1="248.00" y1="349.80" x2="248.00" y2="343.30"/><line x1="248.00" y1="16.75" x2="248.00" y2="23.25"/><line x1="267.23" y1="349.80" x2="267.23" y2="345.90"/><line x1="267.23" y1="16.75" x2="267.23" y2="20.65"/><line x1="286.45" y1="349.80" x2="286.45" y2="345.90"/><line x1="286.45" y1="16.75" x2="286.45" y2="20.65"/><line x1="305.67" y1="349.80" x2="305.67" y2="345.90"/><line x1="305.67" y1="16.75" x2="305.67" y2="20.65"/><line x1="324.90" y1="349.80" x2="324.90" y2="343.30"/><line x1="324.90" y1="16.75" x2="324.90" y2="23.25"/><line x1="344.12" y1="349.80" x2="344.12" y2="345.90"/><line x1="344.12" y1="16.75" x2="344.12" y2="20.65"/><line x1="363.35" y1="349.80" x2="363.35" y2="345.90"/><line x1="363.35" y1="16.75" x2="363.35" y2="20.65"/><line x1="382.57" y1="349.80" x2="382.57" y2="345.90"/><line x1="382.57" y1="16.75" x2="382.57" y2="20.65"/><line x1="401.80" y1="349.80" x2="401.80" y2="343.30"/><line x1="401.80" y1="16.75" x2="401.80" y2="23.25"/><line x1="421.02" y1="349.80" x2="421.02" y2="345.90"/><line x1="421.02" y1="16.75" x2="421.02" y2="20.65"/><line x1="440.25" y1="349.80" x2="440.25" y2="345.90"/><line x1="440.25" y1="16.75" x2="440.25" y2="20.65"/><line x1="459.47" y1="349.80" x2="459.47" y2="345.90"/><line x1="459.47" y1="16.75" x2="459.47" y2="20.65"/><line x1="478.70" y1="349.80" x2="478.70" y2="343.30"/><line x1="478.70" y1="16.75" x2="478.70" y2="23.25"/><line x1="497.92" y1="349.80" x2="497.92" y2="345.90"/><line x1="497.92" y1="16.75" x2="497.92" y2="20.65"/><line x1="517.15" y1="349.80" x2="517.15" y2="345.90"/><line x1="517.15" y1="16.75" x2="517.15" y2="20.65"/><line x1="536.38" y1="349.80" x2="536.38" y2="345.90"/><line x1="536.38" y1="16.75" x2="536.38" y2="20.65"/><line x1="555.60" y1="349.80" x2="555.60" y2="343.30"/><line x1="555.60" y1="16.75" x2="555.60" y2="23.25"/><line x1="574.82" y1="349.80" x2="574.82" y2="345.90"/><line x1="574.82" y1="16.75" x2="574.82" y2="20.65"/><line x1="594.05" y1="349.80" x2="594.05" y2="345.90"/><line x1="594.05" y1="16.75" x2="594.05" y2="20.65"/><line x1="613.27" y1="349.80" x2="613.27" y2="345.90"/><line x1="613.27" y1="16.75" x2="613.27" y2="20.65"/><line x1="94.20" y1="333.15" x2="98.10" y2="333.15"/><line x1="632.50" y1="333.15" x2="628.60" y2="333.15"/><line x1="94.20" y1="316.50" x2="98.10" y2="316.50"/><line x1="632.50" y1="316.50" x2="628.60" y2="316.50"/><line x1="94.20" y1="299.84" x2="98.10" y2="299.84"/><line x1="632.50" y1="299.84" x2="628.60" y2="299.84"/><line x1="94.20" y1="283.19" x2="98.10" y2="283.19"/><line x1="632.50" y1="283.19" x2="628.60" y2="283.19"/><line x1="94.20" y1="266.54" x2="100.70" y2="266.54"/><line x1="632.50" y1="266.54" x2="626.00" y2="266.54"/><line x1="94.20" y1="249.88" x2="98.10" y2="249.88"/><line x1="632.50" y1="249.88" x2="628.60" y2="249.88"/><line x1="94.20" y1="233.23" x2="98.10" y2="233.23"/><line x1="632.50" y1="233.23" x2="628.60" y2="233.23"/><line x1="94.20" y1="216.58" x2="98.10" y2="216.58"/><line x1="632.50" y1="216.58" x2="628.60" y2="216.58"/><line x1="94.20" y1="199.93" x2="98.10" y2="199.93"/><line x1="632.50" y1="199.93" x2="628.60" y2="199.93"/><line x1="94.20" y1="183.28" x2="100.70" y2="183.28"/><line x1="632.50" y1="183.28" x2="626.00" y2="183.28"/><line x1="94.20" y1="166.62" x2="98.10" y2="166.62"/><line x1="632.50" y1="166.62" x2="628.60" y2="166.62"/><line x1="94.20" y1="149.97" x2="98.10" y2="149.97"/><line x1="632.50" y1="149.97" x2="628.60" y2="149.97"/><line x1="94.20" y1="133.32" x2="98.10" y2="133.32"/><line x1="632.50" y1="133.32" x2="628.60" y2="133.32"/><line x1="94.20" y1="116.67" x2="98.10" y2="116.67"/><line x1="632.50" y1="116.67" x2="628.60" y2="116.67"/><line x1="94.20" y1="100.01" x2="100.70" y2="100.01"/><line x1="632.50" y1="100.01" x2="626.00" y2="100.01"/><line x1="94.20" y1="83.36" x2="98.10" y2="83.36"/><line x1="632.50" y1="83.36" x2="628.60" y2="83.36"/><line x1="94.20" y1="66.71" x2="98.10" y2="66.71"/><line x1="632.50" y1="66.71" x2="628.60" y2="66.71"/><line x1="94.20" y1="50.06" x2="98.10" y2="50.06"/><line x1="632.50" y1="50.06" x2="628.60" y2="50.06"/><line x1="94.20" y1="33.40" x2="98.10" y2="33.40"/><line x1="632.50" y1="33.40" x2="628.60" y2="33.40"/></g><g stroke="#000" stroke-opacity="0.22" stroke-width="1" fill="none"><line x1="94.20" y1="349.80" x2="94.20" y2="343.30"/><line x1="94.20" y1="16.75" x2="94.20" y2="23.25"/><line x1="632.50" y1="349.80" x2="632.50" y2="343.30"/><line x1="632.50" y1="16.75" x2="632.50" y2="23.25"/><line x1="94.20" y1="349.80" x2="100.70" y2="349.80"/><line x1="632.50" y1="349.80" x2="626.00" y2="349.80"/><line x1="94.20" y1="16.75" x2="100.70" y2="16.75"/><line x1="632.50" y1="16.75" x2="626.00" y2="16.75"/></g><line x1="519" y1="41.2" x2="555" y2="41.2" stroke="#aa0000" stroke-width="2.6"/><line x1="519" y1="86.3" x2="555" y2="86.3" stroke="#0000ff" stroke-width="2.6"/><g font-family="Liberation Sans, sans-serif" font-weight="bold" fill="#000"><text id="x0" x="94.20" y="381.00" transform="rotate(0.05 94.20 381.00)" text-anchor="middle" font-size="28">0</text><text id="x2" x="171.10" y="381.00" transform="rotate(0.05 171.10 381.00)" text-anchor="middle" font-size="28">2</text><text id="x4" x="248.00" y="381.00" transform="rotate(0.05 248.00 381.00)" text-anchor="middle" font-size="28">4</text><text id="x6" x="324.90" y="381.00" transform="rotate(0.05 324.90 381.00)" text-anchor="middle" font-size="28">6</text><text id="x8" x="401.80" y="381.00" transform="rotate(0.05 401.80 381.00)" text-anchor="middle" font-size="28">8</text><text id="x10" x="478.70" y="381.00" transform="rotate(0.05 478.70 381.00)" text-anchor="middle" font-size="28">10</text><text id="x12" x="555.60" y="381.00" transform="rotate(0.05 555.60 381.00)" text-anchor="middle" font-size="28">12</text><text id="x14" x="632.50" y="381.00" transform="rotate(0.05 632.50 381.00)" text-anchor="middle" font-size="28">14</text><text id="y0" x="88.30" y="359.43" transform="rotate(0.05 88.30 359.43)" text-anchor="end" font-size="28">0</text><text id="y10" x="88.30" y="276.17" transform="rotate(0.05 88.30 276.17)" text-anchor="end" font-size="28">10</text><text id="y20" x="88.30" y="192.91" transform="rotate(0.05 88.30 192.91)" text-anchor="end" font-size="28">20</text><text id="y30" x="88.30" y="109.64" transform="rotate(0.05 88.30 109.64)" text-anchor="end" font-size="28">30</text><text id="y40" x="88.30" y="26.38" transform="rotate(0.05 88.30 26.38)" text-anchor="end" font-size="28">40</text><text id="lw" x="460.00" y="50.20" transform="rotate(0.05 460 50)" font-size="23.5" font-style="italic">ω</text><text id="ls" x="478.60" y="50.20" transform="rotate(0.05 460 50)" font-size="21.5">/</text><text id="lm" x="485.00" y="50.20" transform="rotate(0.05 460 50)" font-size="24">m</text><text id="l1" x="568.30" y="49.50" transform="rotate(0.05 460 50)" font-size="24.5">0.45</text><text id="l2" x="568.30" y="95.00" transform="rotate(0.05 460 50)" font-size="24.5">0.41</text><text id="xr" x="356.00" y="429.20" transform="rotate(0.05 460 50)" font-size="30" font-style="italic">r</text><g transform="translate(31.50 199.80) rotate(-90)" font-style="italic"><text id="yrho" x="0" y="0" font-size="28">ρ</text><text id="yM" x="17.75" y="-14.90" font-size="19.6">M</text><text id="yQ" x="17.50" y="6.50" font-size="19.6">Q</text></g></g><rect id="barx" x="356.8" y="407.05" width="15.2" height="2.75" fill="#000"/><rect id="bary" x="10.3" y="182" width="2.4" height="18.7" fill="#000"/></svg>
</body></html>
